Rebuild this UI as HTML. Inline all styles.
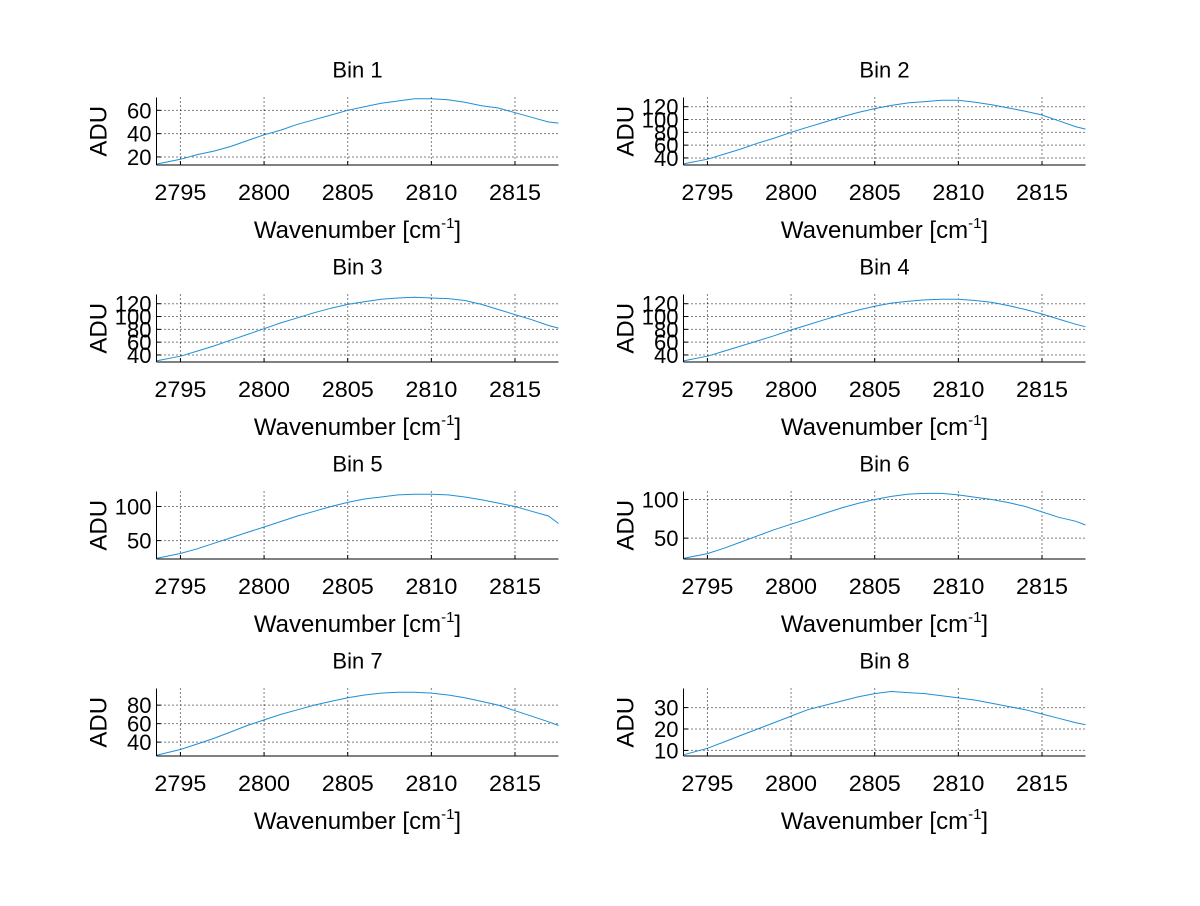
<!DOCTYPE html>
<html><head><meta charset="utf-8"><style>
html,body{margin:0;padding:0;background:#fff;}
svg text{font-family:"Liberation Sans",sans-serif;fill:#000;}
</style></head><body>
<svg id="fig" width="1200" height="901" viewBox="0 0 1200 901" xmlns="http://www.w3.org/2000/svg"></svg>
<script>
const xs = [2793.6,2795,2796,2797,2798,2799,2800,2801,2802,2803,2804,2805,2806,2807,2808,2809,2810,2811,2812,2813,2814,2815,2816,2817,2817.6];
const bin1 = [14,18,22,25,29,34,39,43,48,52,56,60,63,66,68,70,70,69,67,64,62,58,54,50,49];
const bin2 = [31,38,46,54,63,71,80,88,96,104,111,117,122,126,128,130,130,127,123,118,113,107,98,89,85];
const bin3 = [31,38,46,54,63,72,81,90,98,106,113,119,123,127,129,130,129,128,125,119,111,103,95,86,82];
const bin4 = [31,38,46,54,62,70,79,87,95,103,110,116,121,124,126,127,127,125,122,117,111,104,96,88,84];
const bin5 = [24,31,38,46,54,62,70,78,86,93,100,106,111,114,117,118,118,117,114,110,105,100,93,86,75];
const bin6 = [24,30,37,45,53,61,68,75,82,89,95,100,104,107,108,108,106,103,100,96,91,84,77,72,67];
const bin7 = [26,32,38,44,51,58,64,70,75,80,84,88,91,93,94,94,93,91,88,84,80,74,68,62,58];
const bin8 = [8,11,14,17,20,23,26,29,31,33,35,36.5,37.5,37,36.5,35.5,34.5,33.5,32,30.5,29,27,25,23,22];
const series = [bin1,bin2,bin3,bin4,bin5,bin6,bin7,bin8];
const yRanges = [[13.1,71],[29,134.4],[29,134.4],[29,134.4],[23,122],[23,110.4],[25,98],[7.4,38.9]];
const yTicks = [[20,40,60],[40,60,80,100,120],[40,60,80,100,120],[40,60,80,100,120],[50,100],[50,100],[40,60,80],[10,20,30]];
const xTicks = [2795,2800,2805,2810,2815];
const xMin = 2793.57, xMax = 2817.6;

const NS = "http://www.w3.org/2000/svg";
const svg = document.getElementById('fig');
function mk(tag, attrs, parent){const e=document.createElementNS(NS,tag);for(const k in attrs)e.setAttribute(k,attrs[k]);(parent||svg).appendChild(e);return e;}

for(let i=0;i<8;i++){
  const col=i%2,row=Math.floor(i/2);
  const L = col? 683.5:156.5, R = col? 1085.5:558.5;
  const T = 97.5+row*197, B = 165+row*197;
  const [y0,y1]=yRanges[i];
  const sx=v=>L+(v-xMin)/(xMax-xMin)*(R-L);
  const sy=v=>B-(v-y0)/(y1-y0)*(B-T);
  const g=mk('g',{});
  
  
  xTicks.forEach(t=>{
    const ln=mk('line',{x1:sx(t),x2:sx(t),y1:T,y2:B,stroke:'#000','stroke-width':1,'stroke-dasharray':'1,3'},g);
    
    
    mk('line',{x1:sx(t),x2:sx(t),y1:B,y2:B-4,stroke:'#000'},g);
    const tx=mk('text',{x:sx(t),y:B+35,'text-anchor':'middle','font-size':22,textLength:52,lengthAdjust:'spacingAndGlyphs'},g);
    tx.textContent=t;
    
    
  });
  yTicks[i].forEach(t=>{
    const ln=mk('line',{x1:L,x2:R,y1:sy(t),y2:sy(t),stroke:'#000','stroke-width':1,'stroke-dasharray':'1,3'},g);
    
    
    mk('line',{x1:L,x2:L+4,y1:sy(t),y2:sy(t),stroke:'#000'},g);
    const tx=mk('text',{x:L-5,y:sy(t)+8,'text-anchor':'end','font-size':22},g);
    tx.textContent=t;
    
    
  });
  mk('line',{x1:L,x2:L,y1:T,y2:B,stroke:'#000'},g);
  mk('line',{x1:L,x2:R,y1:B,y2:B,stroke:'#000'},g);
  const pts=xs.map((x,j)=>sx(x).toFixed(1)+','+sy(series[i][j]).toFixed(1)).join(' ');
  const pl=mk('polyline',{points:pts,fill:'none',stroke:'#1f8fd6','stroke-width':1},g);
  
  
  const ti=mk('text',{x:(L+R)/2,y:T-20,'text-anchor':'middle','font-size':22},g);
  ti.textContent='Bin '+(i+1);
  
  
  const xl=mk('text',{x:(L+R)/2,y:B+73,'text-anchor':'middle','font-size':24},g);
  xl.innerHTML='Wavenumber [cm<tspan dy="-10" font-size="15">-1</tspan><tspan dy="10">]</tspan>';
  
  
  const yx = L-50;
  const yl=mk('text',{x:yx,y:(T+B)/2,'text-anchor':'middle','font-size':24,transform:'rotate(-90 '+(yx)+' '+((T+B)/2)+')'},g);
  yl.textContent='ADU';
  
  
}
</script>
</body></html>
